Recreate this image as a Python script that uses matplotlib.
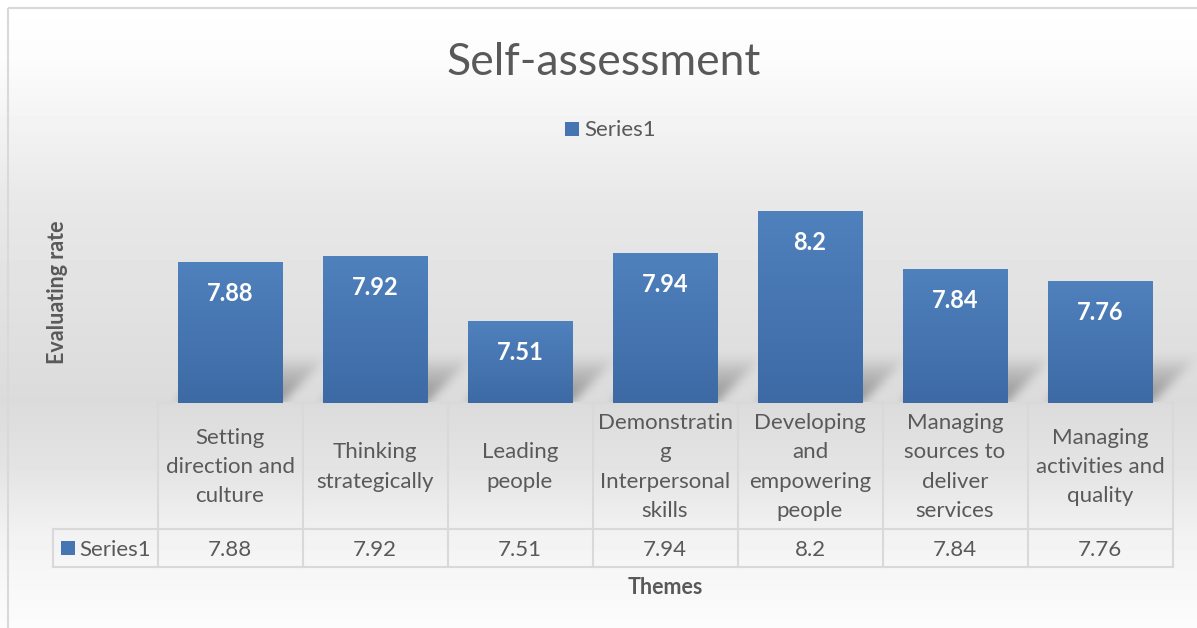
import numpy as np
import matplotlib.pyplot as plt
from matplotlib.patches import Rectangle

categories = ["Setting\ndirection and\nculture", "Thinking\nstrategically", "Leading\npeople",
              "Demonstratin\ng\nInterpersonal\nskills", "Developing\nand\nempowering\npeople",
              "Managing\nsources to\ndeliver\nservices", "Managing\nactivities and\nquality"]
values = [7.88, 7.92, 7.51, 7.94, 8.2, 7.84, 7.76]
series_name = "Series1"
title = "Self-assessment"
x_label = "Themes"
y_label = "Evaluating rate"
y_min, y_max = 7.0, 8.4

plt.rcParams['font.family'] = ['Lato', 'DejaVu Sans']
TXT = '#595959'
GRID = '#d9d9d9'
BAR_TOP = np.array([79, 129, 189]) / 255
BAR_BOT = np.array([61, 106, 165]) / 255

W, H = 1197, 628
fig = plt.figure(figsize=(W / 100, H / 100), dpi=100)

# background axes in pixel coords (y down)
bg = fig.add_axes([0, 0, 1, 1])
rows = np.arange(H)
shade = np.interp(rows, [0, 60, 200, 400, 470, 540, 628],
                  [255, 252, 232, 219, 228, 243, 252]) / 255
grad = np.repeat(shade[:, None], 2, axis=1)
bg.imshow(grad, cmap='gray', vmin=0, vmax=1, extent=[0, W, H, 0], aspect='auto', zorder=0)
bg.add_patch(Rectangle((7.5, 7.5), W, H, fill=False, ec=GRID, lw=1.5, zorder=1))

# bars
base_px, top_px = 403, 180
ax = fig.add_axes([157.5 / W, 1 - base_px / H, 1015 / W, (base_px - top_px) / H])
ax.set_facecolor('none')
ax.axis('off')
x = np.arange(len(values))
bars = ax.bar(x, values, width=0.72, color=BAR_BOT, zorder=2)
bar_grad = np.linspace(0, 1, 64)[:, None, None] * (BAR_BOT - BAR_TOP) + BAR_TOP
for b, v in zip(bars, values):
    ax.imshow(bar_grad, extent=[b.get_x(), b.get_x() + b.get_width(), y_min, v],
              aspect='auto', zorder=3)
    ax.annotate(f"{v:g}", (b.get_x() + b.get_width() / 2, v), xytext=(0, -27.7),
                textcoords='offset points', ha='center', va='baseline',
                color='white', fontsize=17, fontweight='bold', zorder=4)
ax.set_xlim(-0.5, len(values) - 0.5)
ax.set_ylim(y_min, y_max)


def px(xv):
    return ax.transData.transform((xv, y_min))[0]


# soft shadows to the right of each bar
def box_blur(a, r, axis):
    pad = [(0, 0), (0, 0)]
    pad[axis] = (r, r)
    p = np.pad(a, pad, mode='edge')
    c = np.cumsum(p, axis=axis)
    c = np.insert(c, 0, 0, axis=axis)
    n = 2 * r + 1
    L = c.shape[axis]
    return (np.take(c, range(n, L), axis=axis) - np.take(c, range(0, L - n), axis=axis)) / n


alpha = np.zeros((H, W))
hs, sh = 46, 46
for b in bars:
    xl, xr = px(b.get_x()), px(b.get_x() + b.get_width())
    for k in range(hs):
        t = k / hs
        r = base_px - 1 - k
        c0, c1 = int(xl + sh * t), int(xr + sh * t)
        alpha[r, c0:c1] = np.maximum(alpha[r, c0:c1], 0.65 * (1 - t) ** 0.8)
for _ in range(2):
    alpha = box_blur(alpha, 5, 0)
    alpha = box_blur(alpha, 5, 1)
alpha[base_px:] = 0
shadow = np.zeros((H, W, 4))
shadow[..., :3] = 0.4
shadow[..., 3] = alpha
bg.imshow(shadow, extent=[0, W, H, 0], aspect='auto', zorder=1)

# data table
edges = [px(i - 0.5) for i in range(len(values) + 1)]
row_top, row_mid, row_bot, lab_left = 403, 529, 567, 52.5
kw = dict(color=GRID, lw=1.5, zorder=2, solid_capstyle='projecting')
bg.plot([edges[0], edges[-1]], [row_top, row_top], **kw)
bg.plot([lab_left, edges[-1]], [row_mid, row_mid], **kw)
bg.plot([lab_left, edges[-1]], [row_bot, row_bot], **kw)
bg.plot([lab_left, lab_left], [row_mid, row_bot], **kw)
for e in edges:
    bg.plot([e, e], [row_top, row_bot], **kw)
for i, (cat, v) in enumerate(zip(categories, values)):
    cx = (edges[i] + edges[i + 1]) / 2
    bg.text(cx, 467, cat, ha='center', va='center', multialignment='center',
            fontsize=16, color=TXT, linespacing=1.57, zorder=3)
    bg.text(cx, 556, f"{v:g}", ha='center', va='baseline', fontsize=16, color=TXT, zorder=3)
bg.add_patch(Rectangle((61, 541), 14, 14, fc=BAR_TOP * 0.5 + BAR_BOT * 0.5, ec='none', zorder=3))
bg.text(79, 556, series_name, ha='left', va='baseline', fontsize=16, color=TXT, zorder=3)

# title, legend, axis titles
bg.text(604, 75, title, ha='center', va='baseline', fontsize=32, color=TXT)
bg.add_patch(Rectangle((565, 122), 14, 14, fc=BAR_TOP * 0.5 + BAR_BOT * 0.5, ec='none', zorder=3))
bg.text(584, 136, series_name, ha='left', va='baseline', fontsize=16, color=TXT)
bg.text(665, 587, x_label, ha='center', va='center', fontsize=15.5, fontweight='bold', color=TXT)
bg.text(57, 292, y_label, ha='center', va='center', rotation=90, fontsize=15.5,
        fontweight='bold', color=TXT)

bg.set_xlim(0, W)
bg.set_ylim(H, 0)
bg.axis('off')

fig.savefig("out.png", dpi=100)
